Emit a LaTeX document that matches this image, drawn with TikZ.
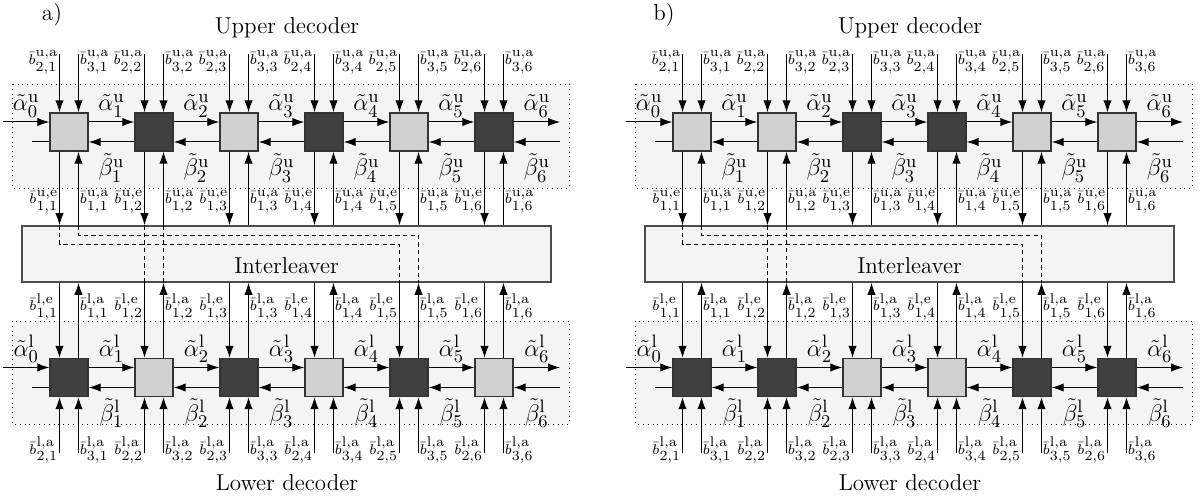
\documentclass[tikz,border=0pt]{standalone}
\usepackage{amsmath}
\usetikzlibrary{arrows.meta, positioning, calc}
\DeclareMathSizes{7}{7}{6.6}{6.6}
\definecolor{blklight}{gray}{0.82}
\definecolor{blkdark}{gray}{0.25}
\definecolor{areagray}{gray}{0.955}

\begin{document}
\begin{tikzpicture}[
    x=0.5pt, y=-0.5pt,
    font=\fontsize{11.5}{14}\selectfont,
    blk/.style={rectangle, draw=black!80, line width=0.7pt, minimum size=19pt, inner sep=0pt},
    lblk/.style={blk, fill=blklight},
    dblk/.style={blk, fill=blkdark},
    area/.style={draw=black, dotted, line width=0.4pt, fill=areagray},
    ilv/.style={rectangle, draw=black!70, line width=0.8pt, fill=areagray, minimum width=264.5pt, minimum height=28pt},
    connector/.style={-{Latex[length=6pt,width=4.2pt]}, line width=0.5pt},
    msg/.style={font=\fontsize{12.5}{14}\selectfont, inner sep=1pt},
    bit/.style={font=\fontsize{7}{8}\selectfont, inner sep=0.4pt},
    wire/.style={line width=0.5pt, dash pattern=on 2.2pt off 1.6pt}
  ]
  \useasboundingbox (0,0) rectangle (1203,501);
  \foreach \p/\dx/\tx/\ucol/\lcol in {%
      a/0/52/{lblk,dblk,lblk,dblk,lblk,dblk}/{dblk,lblk,dblk,lblk,dblk,lblk},%
      b/623/41/{lblk,lblk,dblk,dblk,lblk,lblk}/{dblk,dblk,lblk,lblk,dblk,dblk}} {
  \begin{scope}[shift={(\dx,0)}]
    \node (tag\p) at (\tx,15) {\p)};
    \node (upd\p) at (287,28) {Upper decoder};
    \node (lod\p) at (287,483) {Lower decoder};
    \draw[area] (12.5,84) rectangle (569,188);
    \draw[area] (12.5,321) rectangle (569,424);
    \node[ilv, label={[yshift=-6pt]center:Interleaver}] (il\p) at (286.5,254) {};
    \foreach \c [count=\i] in \ucol
      \node[\c] (u\p\i) at ({69+85*(\i-1)},132) {};
    \foreach \c [count=\i] in \lcol
      \node[\c] (l\p\i) at ({69+85*(\i-1)},377.5) {};
    \coordinate (ai\p) at (3,122);
    \coordinate (ao\p) at (560,122);
    \coordinate (bi\p) at (560,142);
    \coordinate (bo\p) at (32,142);
    \coordinate (lai\p) at (3,367.5);
    \coordinate (lao\p) at (560,367.5);
    \coordinate (lbi\p) at (560,387.5);
    \coordinate (lbo\p) at (32,387.5);

    \draw[connector] (ai\p) -- ([yshift=5pt]u\p1.west) node[msg, midway, above=1pt] {$\tilde{\alpha}^{\mathrm{u}}_{0}$};
    \draw[connector] ([yshift=5pt]u\p6.east) -- (ao\p) node[msg, midway, above=1pt] {$\tilde{\alpha}^{\mathrm{u}}_{6}$};
    \draw[connector] (bi\p) -- ([yshift=-5pt]u\p6.east) node[msg, midway, below=4.5pt] {$\tilde{\beta}^{\mathrm{u}}_{6}$};
    \draw[line width=0.5pt] ([yshift=-5pt]u\p1.west) -- (bo\p);
    \draw[connector] (lai\p) -- ([yshift=5pt]l\p1.west) node[msg, midway, above=1pt] {$\tilde{\alpha}^{\mathrm{l}}_{0}$};
    \draw[connector] ([yshift=5pt]l\p6.east) -- (lao\p) node[msg, midway, above=1pt] {$\tilde{\alpha}^{\mathrm{l}}_{6}$};
    \draw[connector] (lbi\p) -- ([yshift=-5pt]l\p6.east) node[msg, midway, below=4.5pt] {$\tilde{\beta}^{\mathrm{l}}_{6}$};
    \draw[line width=0.5pt] ([yshift=-5pt]l\p1.west) -- (lbo\p);
    \foreach \i [evaluate=\i as \j using int(\i+1)] in {1,...,5} {
      \draw[connector] ([yshift=5pt]u\p\i.east) -- ([yshift=5pt]u\p\j.west) node[msg, midway, above=1pt] {$\tilde{\alpha}^{\mathrm{u}}_{\i}$};
      \draw[connector] ([yshift=-5pt]u\p\j.west) -- ([yshift=-5pt]u\p\i.east) node[msg, midway, below=4.5pt] {$\tilde{\beta}^{\mathrm{u}}_{\i}$};
      \draw[connector] ([yshift=5pt]l\p\i.east) -- ([yshift=5pt]l\p\j.west) node[msg, midway, above=1pt] {$\tilde{\alpha}^{\mathrm{l}}_{\i}$};
      \draw[connector] ([yshift=-5pt]l\p\j.west) -- ([yshift=-5pt]l\p\i.east) node[msg, midway, below=4.5pt] {$\tilde{\beta}^{\mathrm{l}}_{\i}$};
    }
    \foreach \i in {1,...,6} {
      \path ([xshift=-4.75pt]u\p\i.south) coordinate (ul\p\i)
            ([xshift=4.75pt]u\p\i.south) coordinate (ur\p\i)
            ([xshift=-4.75pt]l\p\i.north) coordinate (ll\p\i)
            ([xshift=4.75pt]l\p\i.north) coordinate (lr\p\i);
      \draw[connector] ([xshift=-4.75pt,yshift=29pt]u\p\i.north) node[bit, anchor=east, yshift=-4pt] {$\bar{b}^{\mathrm{u,a}}_{2,\i}$} -- ([xshift=-4.75pt]u\p\i.north);
      \draw[connector] ([xshift=4.75pt,yshift=29pt]u\p\i.north) node[bit, anchor=west, yshift=-4pt] {$\bar{b}^{\mathrm{u,a}}_{3,\i}$} -- ([xshift=4.75pt]u\p\i.north);
      \draw[connector] (ul\p\i) -- (ul\p\i |- il\p.north) node[bit, anchor=east, pos=0.68] {$\bar{b}^{\mathrm{u,e}}_{1,\i}$};
      \draw[connector] (ur\p\i |- il\p.north) -- (ur\p\i) node[bit, anchor=west, pos=0.32] {$\bar{b}^{\mathrm{u,a}}_{1,\i}$};
      \draw[connector] (ll\p\i |- il\p.south) -- (ll\p\i) node[bit, anchor=east, pos=0.32] {$\bar{b}^{\mathrm{l,e}}_{1,\i}$};
      \draw[connector] (lr\p\i) -- (lr\p\i |- il\p.south) node[bit, anchor=west, pos=0.68] {$\bar{b}^{\mathrm{l,a}}_{1,\i}$};
      \draw[connector] ([xshift=-4.75pt,yshift=-28pt]l\p\i.south) node[bit, anchor=east, yshift=1.5pt] {$\bar{b}^{\mathrm{l,a}}_{2,\i}$} -- ([xshift=-4.75pt]l\p\i.south);
      \draw[connector] ([xshift=4.75pt,yshift=-28pt]l\p\i.south) node[bit, anchor=west, yshift=1.5pt] {$\bar{b}^{\mathrm{l,a}}_{3,\i}$} -- ([xshift=4.75pt]l\p\i.south);
    }
    \draw[wire] (ul\p1 |- il\p.north) -- ++(0,19) -| (ll\p5 |- il\p.south);
    \draw[wire] (ur\p1 |- il\p.north) -- ++(0,10) -| (lr\p5 |- il\p.south);
    \draw[wire] (ul\p2 |- il\p.north) -- (ll\p2 |- il\p.south);
    \draw[wire] (ur\p2 |- il\p.north) -- (lr\p2 |- il\p.south);
  \end{scope}
  }
\end{tikzpicture}
\end{document}
